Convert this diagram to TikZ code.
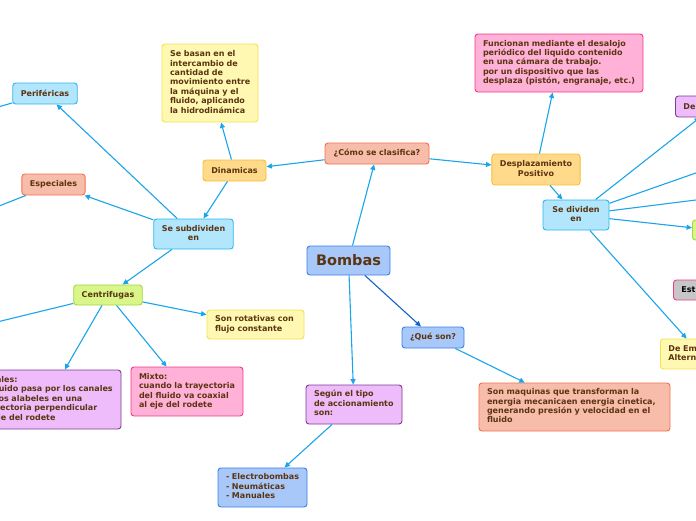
\documentclass[tikz,border=0pt]{standalone}
\usepackage{fontspec}
\setmainfont{DejaVu Sans}
\usetikzlibrary{arrows.meta}
\definecolor{txt}{HTML}{5B3410}
\definecolor{lnk}{HTML}{1AA5EA}
\definecolor{dk}{HTML}{1463C8}
\definecolor{blF}{HTML}{A8C8FA}\definecolor{blD}{HTML}{3A80E8}
\definecolor{lbF}{HTML}{B2E6FC}\definecolor{lbD}{HTML}{2CB5F0}
\definecolor{saF}{HTML}{F8BCAA}\definecolor{saD}{HTML}{F3704F}
\definecolor{orF}{HTML}{FFDA8A}\definecolor{orD}{HTML}{F8BD35}
\definecolor{yeF}{HTML}{FFF8B3}\definecolor{yeD}{HTML}{F2E24E}
\definecolor{grF}{HTML}{D8F68A}\definecolor{grD}{HTML}{A5D63C}
\definecolor{puF}{HTML}{EEBCFB}\definecolor{puD}{HTML}{7E3C8E}
\definecolor{piF}{HTML}{FFB1D7}\definecolor{piD}{HTML}{EF3C8A}
\definecolor{gyF}{HTML}{C6C6C6}
\newcommand{\myl}[1]{\begin{tabular}{@{}l@{}}#1\end{tabular}}
\newcommand{\myc}[1]{\begin{tabular}{@{}c@{}}#1\end{tabular}}
\begin{document}
\begin{tikzpicture}[x=1pt,y=-1pt,
  box/.style={draw, rounded corners=3pt, line width=0.9pt, inner xsep=8pt, inner ysep=0pt,
    font=\fontsize{8}{9.4}\selectfont\bfseries, text=txt, align=center},
  sz/.style 2 args={minimum width=#1pt, minimum height=#2pt},
  bl/.style={fill=blF, draw=blD},
  lbl/.style={fill=lbF, draw=lbD},
  sal/.style={fill=saF, draw=saD},
  ora/.style={fill=orF, draw=orD},
  yel/.style={fill=yeF, draw=yeD},
  grn/.style={fill=grF, draw=grD},
  pur/.style={fill=puF, draw=puD},
  pnk/.style={fill=piF, draw=piD},
  gry/.style={fill=gyF, draw=piD},
  conn/.style={draw=lnk, line width=1.1pt, -{Triangle[length=5.5pt,width=5pt]}}
]
\useasboundingbox (0,0) rectangle (696,520);
\clip (0,0) rectangle (696,520);

\node[box, bl, sz={83}{29}, font=\fontsize{14.5}{16}\selectfont\bfseries] (bombas) at (348.5,260.5) {Bombas};
\node[box, sal, sz={104}{21}] (como) at (377,153.5) {¿Cómo se clasifica?};
\node[box, ora, sz={63}{21}] (dinam) at (234.5,170.5) {Dinamicas};
\node[box, yel, sz={96}{78}, text width=80pt, align=left] (basan) at (210,83) {\myl{Se basan en el\\intercambio de\\cantidad de\\movimiento entre\\la máquina y el\\fluido, aplicando\\la hidrodinámica}};
\node[box, lbl, sz={79}{30}] (subdiv) at (193.5,234) {\myc{Se subdividen\\en}};
\node[box, lbl, sz={64}{21}] (perif) at (45,93.5) {Periféricas};
\node[box, sal, sz={63}{21}] (espec) at (53.5,184.5) {Especiales};
\node[box, grn, sz={68}{20}] (centrif) at (108,295) {Centrifugas};
\node[box, yel, sz={97}{29}, text width=81pt, align=left] (rotat) at (255.5,324.5) {\myl{Son rotativas con\\flujo constante}};
\node[box, pur, sz={147}{59}, text width=131pt, align=left] (radial) at (47.5,399.5) {\myl{Axiales:\\el fluido pasa por los canales\\de los alabeles en una\\trayectoria perpendicular\\al eje del rodete}};
\node[box, pnk, sz={112}{49}, text width=96pt, align=left] (mixto) at (187,391.5) {\myl{Mixto:\\cuando la trayectoria\\del fluido va coaxial\\al eje del rodete}};
\node[box, ora, sz={88}{31}] (despl) at (536,169.5) {\myc{Desplazamiento\\Positivo}};
\node[box, pnk, sz={168}{58}, text width=152pt, align=left] (funcion) at (559,63) {\myl{Funcionan mediante el desalojo\\periódico del liquido contenido\\en una cámara de trabajo.\\por un dispositivo que las\\desplaza (pistón, engranaje, etc.)}};
\node[box, lbl, sz={66}{30}] (divid) at (576,215) {\myc{Se dividen\\en}};
\node[box, pur, sz={70}{21}, anchor=west, text width=54pt, align=left] (depur) at (675,106.5) {De};
\node[box, grn, sz={40}{20}, anchor=west] (verde) at (692,230) {};
\node[box, gry, sz={70}{20}, anchor=west, text width=54pt, align=left, text=black] (est) at (673,290) {Est};
\node[box, yel, sz={80}{30}, anchor=west, text width=64pt, align=left] (deem) at (660,354) {\myl{De Em\\Altern}};
\node[box, bl, sz={62}{21}] (queson) at (433,337.5) {¿Qué son?};
\node[box, sal, sz={191}{48}, text width=175pt, align=left] (maq) at (574.5,407) {\myl{Son maquinas que transforman la\\energia mecanicaen energia cinetica,\\generando presión y velocidad en el\\fluido}};
\node[box, pur, sz={96}{39}, text width=80pt, align=left] (segun) at (354,404.5) {\myl{Según el tipo\\de accionamiento\\son:}};
\node[box, bl, sz={89}{39}, text width=73pt, align=left] (electro) at (262.5,487.5) {\myl{- Electrobombas\\- Neumáticas\\- Manuales}};

\coordinate (offP) at (-40,118);
\coordinate (offE) at (-40,221.5);
\coordinate (offC) at (-40,331);
\coordinate (offR1) at (760,150.5);
\coordinate (offR2) at (760,192);

\draw[conn] (bombas) -- (como);
\draw[conn] (como) -- (dinam);
\draw[conn] (como) -- (despl);
\draw[conn] (dinam) -- (basan);
\draw[conn] (dinam) -- (subdiv);
\draw[conn] (subdiv) -- (perif);
\draw[conn] (subdiv) -- (espec);
\draw[conn] (subdiv) -- (centrif);
\draw[conn] (perif) -- (offP);
\draw[conn] (espec) -- (offE);
\draw[conn] (centrif) -- (offC);
\draw[conn] (centrif) -- (rotat);
\draw[conn] (centrif) -- (radial);
\draw[conn] (centrif) -- (mixto);
\draw[conn] (despl) -- (funcion);
\draw[conn] (despl) -- (divid);
\draw[conn] (divid) -- ([xshift=25pt]depur.south west);
\draw[conn] (divid) -- (offR1);
\draw[conn] (divid) -- (offR2);
\draw[conn] (divid) -- (verde);
\draw[conn] (divid) -- (deem);
\draw[conn, draw=dk] (bombas) -- (queson);
\draw[conn] (queson) -- (maq);
\draw[conn] (bombas) -- (segun);
\draw[conn] (segun) -- (electro);
\end{tikzpicture}
\end{document}
